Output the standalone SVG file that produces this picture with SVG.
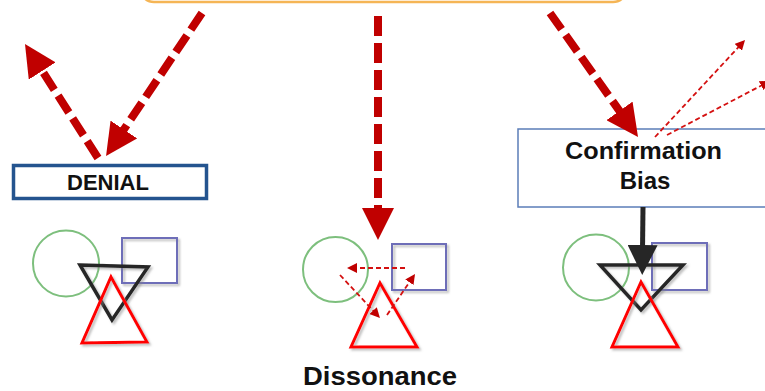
<svg xmlns="http://www.w3.org/2000/svg" width="765" height="391" viewBox="0 0 765 391">
  <style>
    .label { font-family: "Liberation Sans", Arial, sans-serif; font-weight: bold; fill: #111; text-anchor: middle; }
    .circ { fill: none; stroke: #7DBF7D; stroke-width: 2; }
    .sq { fill: none; stroke: #6E6EB8; stroke-width: 2; filter: url(#shadow); }
    .tri-red { fill: none; stroke: #FF0000; stroke-width: 3; stroke-linejoin: miter; filter: url(#shadow); }
    .tri-black { fill: none; stroke: #262626; stroke-width: 3.5; stroke-linejoin: miter; filter: url(#shadow); }
    .flow { fill: none; stroke: #C00000; stroke-width: 8; stroke-dasharray: 20 7; marker-end: url(#bigHead); }
    .hint { fill: none; stroke: #D41010; stroke-width: 1.8; stroke-dasharray: 5 3; marker-end: url(#smallHead); }
    .push { fill: none; stroke: #262626; stroke-width: 5; marker-end: url(#blackHead); }
  </style>
  <defs>
    <filter id="shadow" x="-20%" y="-20%" width="140%" height="140%">
      <feDropShadow dx="2" dy="2" stdDeviation="1" flood-color="#808080" flood-opacity="0.5"/>
    </filter>
    <marker id="bigHead" viewBox="0 0 10 10" refX="2" refY="5" markerUnits="userSpaceOnUse" markerWidth="32" markerHeight="32" orient="auto">
      <path d="M0,0 L10,5 L0,10 z" fill="#C00000"/>
    </marker>
    <marker id="smallHead" viewBox="0 0 10 10" refX="2" refY="5" markerUnits="userSpaceOnUse" markerWidth="10" markerHeight="10" orient="auto">
      <path d="M0,0 L10,5 L0,10 z" fill="#C00000"/>
    </marker>
    <marker id="blackHead" viewBox="0 0 10 10" refX="2" refY="5" markerUnits="userSpaceOnUse" markerWidth="30" markerHeight="30" orient="auto">
      <path d="M0,0 L10,5 L0,10 z" fill="#262626"/>
    </marker>
  </defs>

  <rect width="765" height="391" fill="#FFFFFF"/>

  <!-- source box along the top edge -->
  <g id="source">
    <rect x="140" y="-30" width="487" height="32" rx="14" fill="#FFFFFF" stroke="#F5B555" stroke-width="2.5"/>
  </g>

  <!-- denial -->
  <g id="denial">
    <rect x="13.5" y="165.5" width="193" height="33" fill="#FFFFFF" stroke="#24548F" stroke-width="3.5"/>
    <text class="label" x="108" y="190" font-size="22">DENIAL</text>
  </g>
  <g id="denial-shapes">
    <circle class="circ" cx="66" cy="263.5" r="33"/>
    <rect class="sq" x="122" y="238" width="55" height="45"/>
    <polygon class="tri-black" points="80,265 148,267 112,320"/>
    <polygon class="tri-red" points="111,277 147,342 82,343"/>
  </g>

  <!-- dissonance -->
  <g id="dissonance">
    <circle class="circ" cx="335.5" cy="269.5" r="32.5"/>
    <rect class="sq" x="392" y="244" width="54" height="46"/>
    <polygon class="tri-red" points="380,283 417,347 351,347"/>
    <text class="label" x="380" y="385" font-size="25" textLength="154" lengthAdjust="spacingAndGlyphs">Dissonance</text>
  </g>

  <!-- confirmation bias -->
  <g id="confirmation">
    <rect x="518" y="129" width="260" height="78" fill="#FFFFFF" stroke="#5B7DB8" stroke-width="1.5"/>
    <text class="label" x="643.5" y="159" font-size="24" textLength="157" lengthAdjust="spacingAndGlyphs">Confirmation</text>
    <text class="label" x="645" y="189" font-size="24">Bias</text>
  </g>
  <g id="confirmation-shapes">
    <circle class="circ" cx="596" cy="267.5" r="33"/>
    <rect class="sq" x="652" y="243" width="55" height="47"/>
    <polygon class="tri-black" points="600,265 683,265 641,310"/>
    <polygon class="tri-red" points="641,282 678,347 612,347"/>
  </g>

  <!-- connectors -->
  <g id="connectors">
    <line class="flow" x1="202" y1="13" x2="120.3" y2="134.8"/>
    <line class="flow" x1="98" y1="158" x2="38.8" y2="65.6"/>
    <line class="flow" x1="378" y1="16" x2="378" y2="214.4"/>
    <line class="flow" x1="550" y1="13" x2="623.2" y2="116.1"/>

    <line class="hint" x1="405" y1="268" x2="355" y2="268"/>
    <line class="hint" x1="340" y1="275" x2="374.5" y2="312.1"/>
    <line class="hint" x1="387" y1="315" x2="410.5" y2="280.6"/>

    <line class="hint" x1="655" y1="137" x2="739.6" y2="45.9"/>
    <line class="hint" x1="667" y1="135" x2="762.9" y2="84.7"/>

    <line class="push" x1="643" y1="207" x2="642.5" y2="251"/>
  </g>
</svg>
